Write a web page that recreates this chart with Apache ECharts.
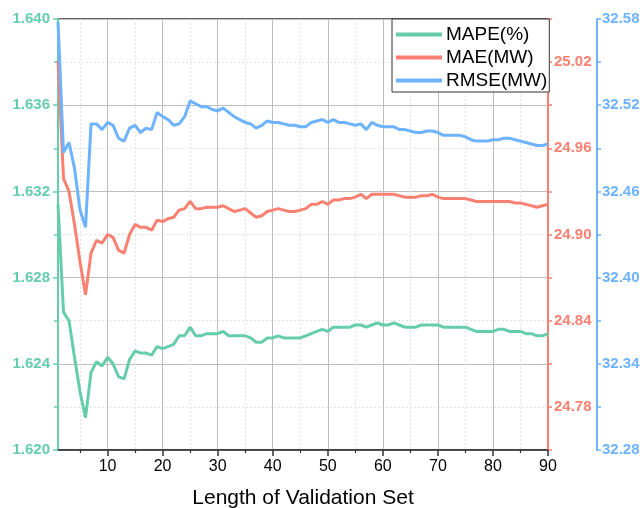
<!DOCTYPE html>
<html>
<head>
<meta charset="utf-8">
<script src="https://cdn.jsdelivr.net/npm/echarts@6/dist/echarts.min.js"></script>
<style>html,body{margin:0;padding:0;background:#fff}#c{width:643px;height:508px}</style>
</head>
<body>
<div id="c"></div>
<script>
// Length of validation set
const lengths = [1,2,3,4,5,6,7,8,9,10,11,12,13,14,15,16,17,18,19,20,21,22,23,24,25,26,27,28,29,30,
31,32,33,34,35,36,37,38,39,40,41,42,43,44,45,46,47,48,49,50,51,52,53,54,55,56,57,58,59,60,
61,62,63,64,65,66,67,68,69,70,71,72,73,74,75,76,77,78,79,80,81,82,83,84,85,86,87,88,89,90];

const mape = [1.6314,1.6264,1.6260,1.6243,1.6227,1.6215,1.6236,1.6241,1.6239,1.6243,
1.6240,1.6234,1.6233,1.6242,1.6246,1.6245,1.6245,1.6244,1.6248,1.6247,
1.6248,1.6249,1.6253,1.6253,1.6257,1.6253,1.6253,1.6254,1.6254,1.6254,
1.6255,1.6253,1.6253,1.6253,1.6253,1.6252,1.6250,1.6250,1.6252,1.6252,
1.6253,1.6252,1.6252,1.6252,1.6252,1.6253,1.6254,1.6255,1.6256,1.6255,
1.6257,1.6257,1.6257,1.6257,1.6258,1.6258,1.6257,1.6258,1.6259,1.6258,
1.6258,1.6259,1.6258,1.6257,1.6257,1.6257,1.6258,1.6258,1.6258,1.6258,
1.6257,1.6257,1.6257,1.6257,1.6257,1.6256,1.6255,1.6255,1.6255,1.6255,
1.6256,1.6256,1.6255,1.6255,1.6255,1.6254,1.6254,1.6253,1.6253,1.6254];

const mae = [25.021,24.939,24.930,24.907,24.881,24.858,24.887,24.896,24.894,24.900,
24.898,24.889,24.887,24.900,24.907,24.905,24.905,24.903,24.910,24.909,
24.911,24.912,24.917,24.918,24.923,24.918,24.918,24.919,24.919,24.919,
24.920,24.918,24.916,24.917,24.918,24.915,24.912,24.913,24.916,24.917,
24.918,24.917,24.916,24.916,24.917,24.918,24.921,24.921,24.923,24.921,
24.924,24.924,24.925,24.925,24.926,24.928,24.925,24.928,24.928,24.928,
24.928,24.928,24.927,24.926,24.926,24.926,24.927,24.927,24.928,24.926,
24.925,24.925,24.925,24.925,24.925,24.924,24.923,24.923,24.923,24.923,
24.923,24.923,24.923,24.922,24.922,24.921,24.920,24.919,24.920,24.921];

const rmse = [32.578,32.487,32.494,32.476,32.447,32.435,32.507,32.507,32.503,32.508,
32.506,32.497,32.495,32.504,32.506,32.501,32.504,32.503,32.515,32.512,
32.510,32.506,32.507,32.512,32.523,32.521,32.519,32.519,32.517,32.516,
32.518,32.515,32.512,32.510,32.508,32.507,32.504,32.506,32.509,32.508,
32.508,32.507,32.506,32.506,32.505,32.505,32.508,32.509,32.510,32.508,
32.510,32.508,32.508,32.507,32.506,32.507,32.503,32.508,32.506,32.505,
32.505,32.505,32.503,32.503,32.502,32.501,32.501,32.502,32.502,32.501,
32.499,32.499,32.499,32.499,32.498,32.496,32.495,32.495,32.495,32.496,
32.496,32.497,32.497,32.496,32.495,32.494,32.493,32.492,32.492,32.493];

const xMajorTicks = [10,20,30,40,50,60,70,80,90];
const xMinorTicks = [5,15,25,35,45,55,65,75,85];
const seriesNames = ['MAPE(%)','MAE(MW)','RMSE(MW)'];

const cGreen = '#66CDAA', cRed = '#FA8072', cBlue = '#6DB3FF';
const font = 'Liberation Sans, Arial, sans-serif';

function pairs(vals){ return lengths.map((x,i)=>[x, vals[i]]); }
function oddHide(v){ const k = Math.round(v*100); return (k % 6 === 0) ? v.toFixed(2) : ''; }

const chart = echarts.init(document.getElementById('c'), null, {renderer:'canvas'});
chart.setOption({
  animation: false,
  backgroundColor: '#fff',
  grid: {left:58, right:95, top:19, bottom:58, show:true, borderColor:'#333', borderWidth:1.5,
         backgroundColor:'transparent', containLabel:false, outerBoundsMode:'none'},
  legend: {
    data: seriesNames,
    orient: 'vertical',
    left: 392, top: 19,
    itemWidth: 46, itemHeight: 4, itemGap: 4, icon: 'rect',
    itemStyle: {borderWidth: 0},
    padding: [6, 2, 2, 4],
    backgroundColor: '#fff',
    borderColor: '#333', borderWidth: 1, borderRadius: 0,
    textStyle: {fontSize: 19, color: '#000', fontFamily: font, padding:[0,0,0,-1]}
  },
  xAxis: [{
    type: 'value', min: 1, max: 90, position: 'bottom',
    name: 'Length of Validation Set', nameLocation: 'middle', nameGap: 38,
    nameTextStyle: {fontSize: 21, color: '#000', fontFamily: font},
    axisLine: {show: true, onZero: false, lineStyle: {color: '#333', width: 1.5}},
    axisTick: {show: true, inside: false, length: 6, customValues: xMajorTicks, lineStyle: {color:'#333', width:1.5}},
    axisLabel: {customValues: xMajorTicks, fontSize: 16, color: '#000', fontFamily: font, margin: 9},
    splitLine: {show: true, lineStyle: {color: '#bdbdbd', width: 1}}
  },{
    type: 'value', min: 1, max: 90, position: 'bottom',
    axisLine: {show: false},
    axisTick: {show: true, length: 3, customValues: xMinorTicks, lineStyle: {color:'#333', width:1.2}},
    axisLabel: {show: false, customValues: xMinorTicks},
    splitLine: {show: true, lineStyle: {color: '#e2e2e2', width: 1, type: [2,2]}}
  }],
  yAxis: [{
    type: 'value', min: 1.62, max: 1.64, interval: 0.004, position: 'left',
    axisLine: {show: true, lineStyle: {color: cGreen, width: 2}},
    axisTick: {show: true, length: 5, lineStyle: {color: cGreen, width: 1.5}},
    minorTick: {show: true, splitNumber: 2, length: 4, lineStyle: {color: cGreen, width: 1.5}},
    axisLabel: {color: cGreen, fontWeight: 'bold', fontSize: 15, fontFamily: font, margin: 8, formatter: v => v.toFixed(3)},
    splitLine: {show: true, lineStyle: {color: '#bdbdbd', width: 1}},
    minorSplitLine: {show: true, lineStyle: {color: '#e2e2e2', width: 1, type: [2,2]}}
  },{
    type: 'value', min: 24.75, max: 25.05, interval: 0.03, position: 'right', offset: 0,
    axisLine: {show: true, lineStyle: {color: cRed, width: 2}},
    axisTick: {show: true, length: 4, lineStyle: {color: cRed, width: 1.5}},
    axisLabel: {color: cRed, fontWeight: 'bold', fontSize: 15, fontFamily: font, margin: 6, formatter: oddHide},
    splitLine: {show: false}
  },{
    type: 'value', min: 32.28, max: 32.58, interval: 0.03, position: 'right', offset: 49,
    axisLine: {show: true, lineStyle: {color: cBlue, width: 2}},
    axisTick: {show: true, length: 4, lineStyle: {color: cBlue, width: 1.5}},
    axisLabel: {color: cBlue, fontWeight: 'bold', fontSize: 15, fontFamily: font, margin: 5, formatter: oddHide},
    splitLine: {show: false}
  }],
  series: [
    {name: seriesNames[0], type: 'line', xAxisIndex: 0, yAxisIndex: 0, data: pairs(mape), showSymbol: false, symbol: 'none',
     lineStyle: {color: cGreen, width: 3}, itemStyle: {color: cGreen}},
    {name: seriesNames[1], type: 'line', xAxisIndex: 0, yAxisIndex: 1, data: pairs(mae), showSymbol: false, symbol: 'none',
     lineStyle: {color: cRed, width: 3}, itemStyle: {color: cRed}},
    {name: seriesNames[2], type: 'line', xAxisIndex: 0, yAxisIndex: 2, data: pairs(rmse), showSymbol: false, symbol: 'none',
     lineStyle: {color: cBlue, width: 3}, itemStyle: {color: cBlue}}
  ]
});
</script>
</body>
</html>
